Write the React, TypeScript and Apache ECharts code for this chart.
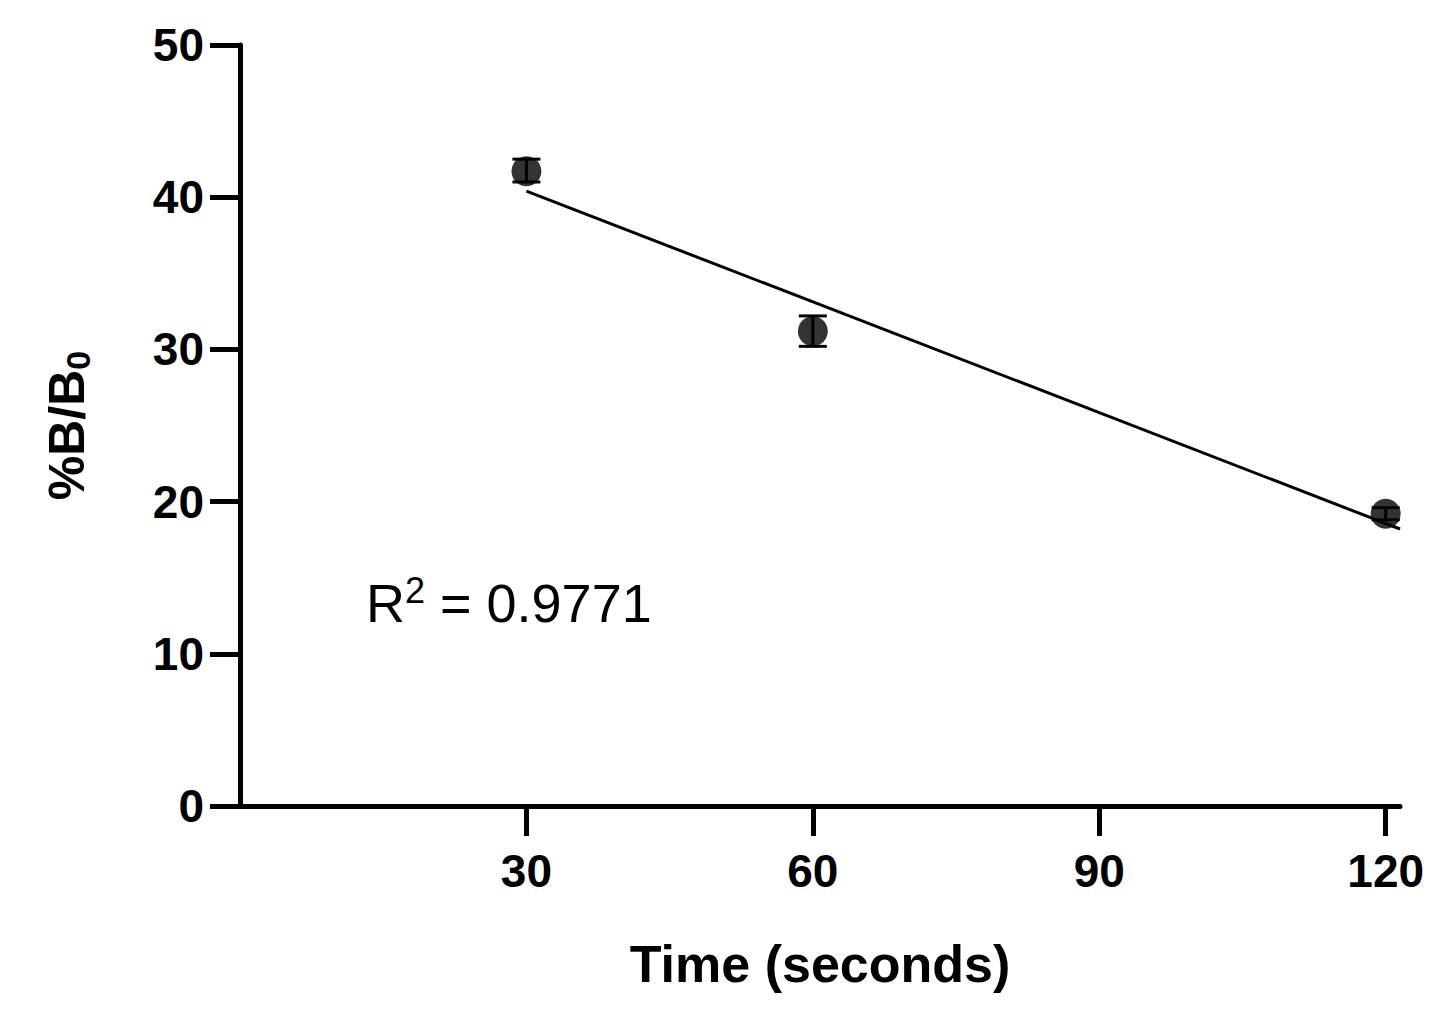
import React from "react";
import * as echarts from "echarts";

const times = [30, 60, 120];
const means = [41.7, 31.2, 19.2];
const errLow = [41.0, 30.2, 18.8];
const errHigh = [42.5, 32.2, 19.6];
const fitLine = [[30, 40.4], [121.5, 18.2]];
const xTicks = [30, 60, 90, 120];

export default function App() {
  const ref = React.useRef<HTMLDivElement>(null);

  React.useEffect(() => {
    document.body.style.margin = "0";
    if (!ref.current) return;
    const chart = echarts.init(ref.current, undefined, { renderer: "svg" });
    const font = "Liberation Sans, Arial, sans-serif";

    chart.setOption({
      animation: false,
      grid: { left: 240, right: 56, top: 45, bottom: 222 },
      xAxis: {
        type: "value", min: 0, max: 121.5, interval: 30,
        name: "Time (seconds)", nameLocation: "middle", nameGap: 132,
        nameTextStyle: { fontSize: 52, fontWeight: "bold", color: "#000", fontFamily: font },
        axisLine: { show: true, onZero: false, lineStyle: { color: "#000", width: 5 } },
        axisTick: { show: true, length: 30, lineStyle: { color: "#000", width: 5 }, customValues: xTicks },
        axisLabel: {
          fontSize: 46, fontWeight: "bold", color: "#000", fontFamily: font, margin: 42,
          customValues: xTicks,
        },
        splitLine: { show: false },
      },
      yAxis: {
        type: "value", min: 0, max: 50, interval: 10,
        name: "{m|%B/B}{s|0}", nameLocation: "middle", nameGap: 145, nameRotate: 90,
        nameTextStyle: {
          color: "#000", fontFamily: font,
          rich: {
            m: { fontSize: 50, fontWeight: "bold", color: "#000", fontFamily: font },
            s: { fontSize: 34, fontWeight: "bold", color: "#000", fontFamily: font, padding: [22, 0, 0, 0] },
          },
        },
        axisLine: { show: true, lineStyle: { color: "#000", width: 5 } },
        axisTick: { show: true, length: 30, lineStyle: { color: "#000", width: 5 } },
        axisLabel: { fontSize: 46, fontWeight: "bold", color: "#000", fontFamily: font, margin: 36 },
        splitLine: { show: false },
      },
      graphic: [{
        type: "text", left: 366, top: 572,
        style: {
          text: "{m|R}{s|2}{m| = 0.9771}",
          rich: {
            m: { fontSize: 54, fill: "#000", fontFamily: font },
            s: { fontSize: 36, fill: "#000", fontFamily: font, padding: [0, 0, 26, 0] },
          },
        },
      }],
      series: [
        {
          type: "line", data: fitLine, showSymbol: false, symbol: "none",
          lineStyle: { color: "#000", width: 3 }, z: 1,
        },
        {
          type: "custom", z: 2,
          data: times.map((t, i) => [t, errLow[i], errHigh[i]]),
          renderItem: (params: any, api: any) => {
            const lo = api.coord([api.value(0), api.value(1)]);
            const hi = api.coord([api.value(0), api.value(2)]);
            const w = 14;
            const st = { stroke: "#000", lineWidth: 3 };
            return {
              type: "group",
              children: [
                { type: "line", shape: { x1: lo[0], y1: lo[1], x2: hi[0], y2: hi[1] }, style: st },
                { type: "line", shape: { x1: lo[0] - w, y1: lo[1], x2: lo[0] + w, y2: lo[1] }, style: st },
                { type: "line", shape: { x1: hi[0] - w, y1: hi[1], x2: hi[0] + w, y2: hi[1] }, style: st },
              ],
            };
          },
        },
        {
          type: "scatter", z: 3,
          data: times.map((t, i) => [t, means[i]]),
          symbolSize: 30, itemStyle: { color: "#000" },
        },
      ],
    });

    return () => chart.dispose();
  }, []);

  return <div ref={ref} style={{ width: 1456, height: 1028 }} />;
}
